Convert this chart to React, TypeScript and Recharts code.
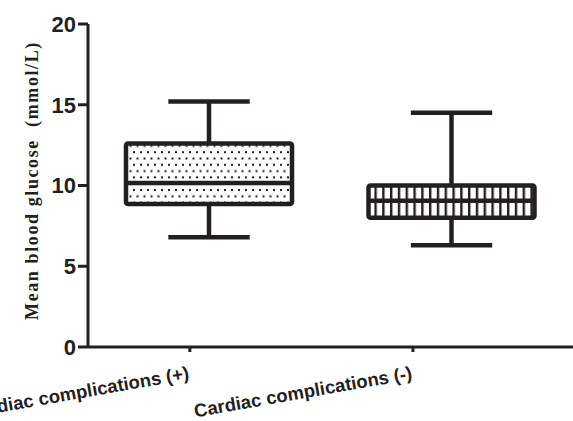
import { ComposedChart, Bar, XAxis, YAxis, Label } from 'recharts'

const groups = ['Cardiac complications (+)', 'Cardiac complications (-)']
const minVals = [6.8, 6.3]
const q1Vals = [8.85, 8.0]
const medVals = [10.15, 9.05]
const q3Vals = [12.6, 10.0]
const maxVals = [15.2, 14.5]
const boxPos = [0.25, 0.75]
const tickPos = [0.21, 0.67]
const yTicks = [0, 5, 10, 15, 20]

const INK = '#231f20'
const fills = ['url(#dots)', 'url(#grid)']

const data = groups.map((g, i) => ({
  name: g,
  idx: i,
  pos: boxPos[i],
  range: [minVals[i], maxVals[i]],
  min: minVals[i],
  q1: q1Vals[i],
  med: medVals[i],
  q3: q3Vals[i],
  max: maxVals[i],
}))

const BoxShape = (props: any) => {
  const { x, y, width, height, payload } = props
  if (height == null || !payload) return null
  const ppu = height / (payload.max - payload.min)
  const yOf = (v: number) => y + (payload.max - v) * ppu
  const cx = x + width / 2
  const cap = width * 0.49
  const sw = 4.5
  return (
    <g>
      <line x1={cx} x2={cx} y1={yOf(payload.max)} y2={yOf(payload.q3)} stroke={INK} strokeWidth={sw} />
      <line x1={cx} x2={cx} y1={yOf(payload.q1)} y2={yOf(payload.min)} stroke={INK} strokeWidth={sw} />
      <line x1={cx - cap / 2} x2={cx + cap / 2} y1={yOf(payload.max)} y2={yOf(payload.max)} stroke={INK} strokeWidth={sw} />
      <line x1={cx - cap / 2} x2={cx + cap / 2} y1={yOf(payload.min)} y2={yOf(payload.min)} stroke={INK} strokeWidth={sw} />
      <rect
        x={x}
        y={yOf(payload.q3)}
        width={width}
        height={yOf(payload.q1) - yOf(payload.q3)}
        fill={fills[payload.idx]}
        stroke={INK}
        strokeWidth={sw}
        rx={2}
      />
      <line x1={x} x2={x + width} y1={yOf(payload.med)} y2={yOf(payload.med)} stroke={INK} strokeWidth={sw} />
    </g>
  )
}

const XTick = ({ x, y, payload }: any) => {
  const i = tickPos.indexOf(payload.value)
  const ty = y + 25
  return (
    <text
      x={x}
      y={ty}
      transform={`rotate(-10, ${x}, ${ty})`}
      textAnchor="end"
      fontFamily="'Liberation Sans', Arial, sans-serif"
      fontWeight="bold"
      fontSize={18.5}
      fill={INK}
    >
      {groups[i] ?? ''}
    </text>
  )
}

const YLabel = ({ viewBox }: any) => {
  const lx = viewBox.x + 38
  const ly = viewBox.y + viewBox.height / 2 - 5
  return (
    <text
      x={lx}
      y={ly}
      transform={`rotate(-90, ${lx}, ${ly})`}
      textAnchor="middle"
      fontFamily="'Liberation Serif', 'Times New Roman', serif"
      fontWeight="bold"
      fontSize={18}
      letterSpacing={1.6}
      fill={INK}
    >
      Mean blood glucose{'\u00a0\u00a0'}(mmol/L)
    </text>
  )
}

export default function App() {
  return (
    <div style={{ position: 'absolute', left: 0, top: 0, width: 573, height: 421, background: '#fff' }}>
      <ComposedChart width={573} height={421} data={data} margin={{ top: 24, right: 0, bottom: 0, left: 0 }}>
        <defs>
          <pattern id="dots" patternUnits="userSpaceOnUse" width={7} height={12.6}>
            <rect width={7} height={12.6} fill="#fff" />
            <rect x={0} y={0} width={2} height={2} fill={INK} />
            <rect x={3.5} y={6.3} width={2} height={2} fill={INK} />
          </pattern>
          <pattern id="grid" patternUnits="userSpaceOnUse" width={7.8} height={20}>
            <rect width={7.8} height={20} fill="#fff" />
            <rect x={0} y={0} width={2.4} height={20} fill={INK} />
          </pattern>
        </defs>
        <XAxis
          dataKey="pos"
          type="number"
          domain={[0, 1]}
          ticks={tickPos}
          allowDataOverflow
          height={74}
          tickSize={5}
          axisLine={{ stroke: INK, strokeWidth: 3 }}
          tickLine={{ stroke: INK, strokeWidth: 3 }}
          tick={<XTick />}
        />
        <YAxis
          domain={[0, 20]}
          ticks={yTicks}
          width={88}
          tickSize={10}
          axisLine={{ stroke: INK, strokeWidth: 3 }}
          tickLine={{ stroke: INK, strokeWidth: 3 }}
          tick={{ fill: INK, fontSize: 22, fontWeight: 'bold', fontFamily: "'Liberation Sans', Arial, sans-serif" }}
        >
          <Label content={<YLabel />} />
        </YAxis>
        <Bar dataKey="range" barSize={166} shape={<BoxShape />} isAnimationActive={false} />
      </ComposedChart>
    </div>
  )
}
